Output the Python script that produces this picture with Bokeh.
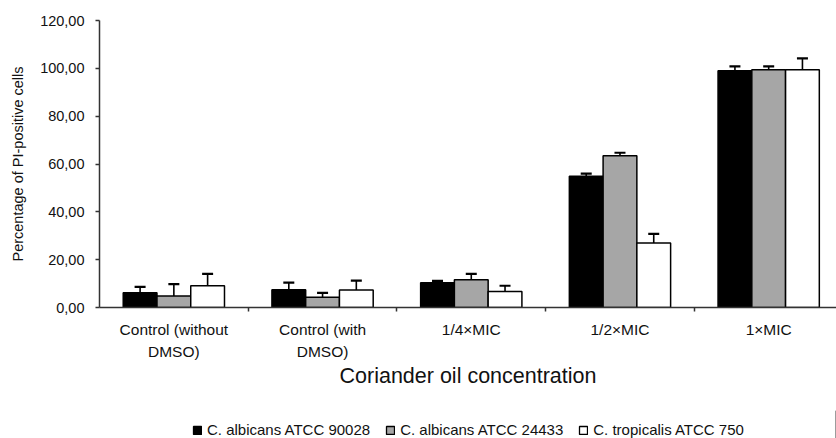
from bokeh.plotting import figure
from bokeh.layouts import column
from bokeh.models import (ColumnDataSource, Range1d, FixedTicker, Whisker, TeeHead,
                          Legend, LegendItem)
from bokeh.embed import file_html
from bokeh.resources import INLINE

categories = ["Control (without\nDMSO)", "Control (with\nDMSO)", "1/4\u00d7MIC", "1/2\u00d7MIC", "1\u00d7MIC"]
series_names = ["C. albicans ATCC 90028", "C. albicans ATCC 24433", "C. tropicalis ATCC 750"]
series_colors = ["#000000", "#a6a6a6", "#ffffff"]

values_90028 = [6.2, 7.4, 10.3, 54.9, 99.0]
errors_90028 = [2.4, 3.0, 0.8, 1.1, 1.8]
values_24433 = [4.8, 4.3, 11.6, 63.4, 99.4]
errors_24433 = [5.0, 1.8, 2.5, 1.3, 1.4]
values_750 = [9.1, 7.3, 6.7, 27.0, 99.4]
errors_750 = [5.0, 3.9, 2.4, 3.8, 4.8]

y_ticks = [0, 20, 40, 60, 80, 100, 120]
y_tick_labels = ["0,00", "20,00", "40,00", "60,00", "80,00", "100,00", "120,00"]

all_values = [values_90028, values_24433, values_750]
all_errors = [errors_90028, errors_24433, errors_750]

FONT = "Liberation Sans"
TXT = "#111111"
AX = "#333333"
bar_w = 0.227
n = len(categories)

p = figure(frame_width=737, frame_height=287, output_backend="svg", toolbar_location=None,
           x_range=Range1d(0, 4.956), y_range=Range1d(0, 120),
           min_border_left=99, min_border_top=20, min_border_right=0, min_border_bottom=103)
p.xgrid.visible = False
p.ygrid.visible = False
p.outline_line_color = None
p.background_fill_color = "white"
p.border_fill_color = "white"

for k in range(3):
    xs = [i + 0.5 + (k - 1) * bar_w for i in range(n)]
    src = ColumnDataSource(dict(x=xs, top=all_values[k],
                                upper=[v + e for v, e in zip(all_values[k], all_errors[k])]))
    p.vbar(x="x", top="top", bottom=0, width=bar_w, source=src,
           fill_color=series_colors[k], line_color="black", line_width=1.5)
    w = Whisker(base="x", lower="top", upper="upper", source=src, dimension="height",
                line_color="black", line_width=1.6, level="overlay",
                upper_head=TeeHead(size=11, line_color="black", line_width=2.2),
                lower_head=None)
    p.add_layout(w)

# y axis
yax = p.yaxis[0]
yax.ticker = FixedTicker(ticks=y_ticks)
yax.major_label_overrides = {t: l for t, l in zip(y_ticks, y_tick_labels)}
yax.minor_tick_line_color = None
yax.major_tick_in = 0
yax.major_tick_out = 4
yax.major_tick_line_color = AX
yax.major_tick_line_width = 1.5
yax.axis_line_color = AX
yax.axis_line_width = 1.5
yax.major_label_standoff = 11
yax.major_label_text_font = FONT
yax.major_label_text_font_size = "14.5px"
yax.major_label_text_color = TXT
yax.axis_label = "Percentage of PI-positive cells"
yax.axis_label_text_font = FONT
yax.axis_label_text_font_size = "14.5px"
yax.axis_label_text_font_style = "normal"
yax.axis_label_text_color = TXT
yax.axis_label_standoff = 11

# x axis
centers = [i + 0.5 for i in range(n)]
xax = p.xaxis[0]
xax.ticker = FixedTicker(ticks=centers, minor_ticks=[float(i) for i in range(1, n)])
xax.major_label_overrides = {c: l for c, l in zip(centers, categories)}
xax.major_tick_line_color = None
xax.major_tick_in = 0
xax.major_tick_out = 0
xax.minor_tick_in = 0
xax.minor_tick_out = 4
xax.minor_tick_line_color = AX
xax.minor_tick_line_width = 1.5
xax.axis_line_color = AX
xax.axis_line_width = 1.5
xax.major_label_standoff = 9
xax.major_label_text_font = FONT
xax.major_label_text_font_size = "15.5px"
xax.major_label_text_line_height = 1.35
xax.major_label_text_color = TXT
xax.axis_label = "Coriander oil concentration"
xax.axis_label_text_font = FONT
xax.axis_label_text_font_size = "21.5px"
xax.axis_label_text_font_style = "normal"
xax.axis_label_text_color = TXT
xax.axis_label_standoff = 1

# legend strip (separate small figure under the chart); proxy bars lie outside its range
lf = figure(width=836, height=28, output_backend="svg", toolbar_location=None,
            x_range=Range1d(0, 1), y_range=Range1d(0, 1),
            x_axis_location=None, y_axis_location=None,
            min_border_left=0, min_border_right=0, min_border_top=0, min_border_bottom=0)
lf.xgrid.visible = False
lf.ygrid.visible = False
lf.outline_line_color = None
items = []
for k in range(3):
    r = lf.vbar(x=[5], top=[1], bottom=0, width=0.1,
                fill_color=series_colors[k], line_color="black", line_width=1.3)
    items.append(LegendItem(label=series_names[k], renderers=[r], index=0))
legend = Legend(items=items, orientation="horizontal", location=(93, 0),
                glyph_width=10, glyph_height=10, label_standoff=5, spacing=15,
                label_height=14,
                label_text_font=FONT, label_text_font_size="15px", label_text_color=TXT,
                border_line_color=None, background_fill_alpha=0, padding=0, margin=0)
lf.add_layout(legend, "center")

layout = column(p, lf, spacing=0)
open("out.html", "w").write(file_html(layout, INLINE))
